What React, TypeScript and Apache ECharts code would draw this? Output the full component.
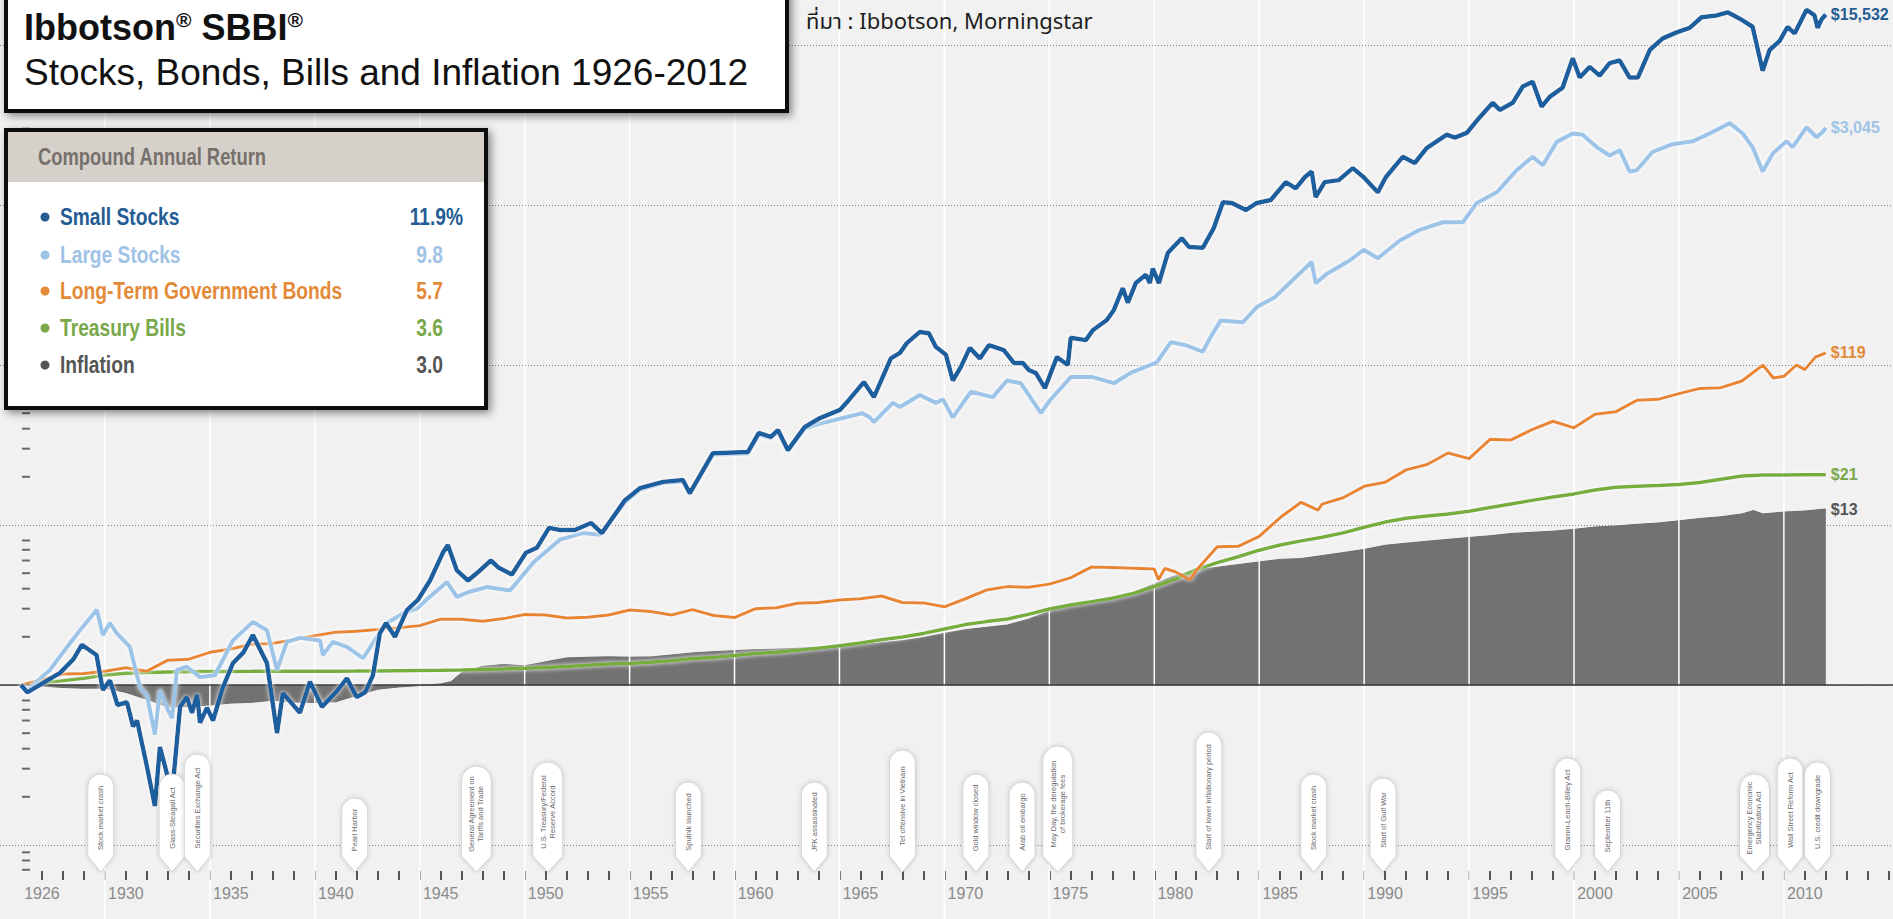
import React, { useEffect, useRef } from 'react';
import * as echarts from 'echarts';

const SANS = "'Liberation Sans', Arial, Helvetica, sans-serif";

// ---------- data (x = year-end, value = growth of $1) ----------
const smallStocks: [number, number][] = [
  [1925,1.0],[1925.3,0.9],[1926.05,1.03],[1926.86,1.19],[1927.5,1.45],[1927.9,1.78],[1928.6,1.54],[1928.9,0.93],
  [1929.24,1.07],[1929.6,0.75],[1930.05,0.78],[1930.34,0.55],[1930.53,0.6],[1931.0,0.31],[1931.38,0.175],[1931.62,0.41],
  [1932.2,0.21],[1932.58,0.73],[1932.9,0.84],[1933.15,0.67],[1933.39,0.87],[1933.53,0.58],[1933.86,0.72],[1934.15,0.6],
  [1934.6,0.95],[1935.1,1.37],[1935.6,1.6],[1936.05,2.05],[1936.72,1.37],[1937.2,0.5],[1937.48,0.89],[1938.29,0.67],
  [1938.77,1.05],[1939.34,0.73],[1940.0,0.9],[1940.53,1.1],[1941.0,0.84],[1941.4,0.9],[1941.77,1.15],[1942.1,2.1],
  [1942.39,2.44],[1942.82,2.0],[1943.39,2.94],[1943.91,3.4],[1944.49,4.5],[1945.1,6.7],[1945.34,7.5],[1945.77,5.2],
  [1946.3,4.5],[1946.87,5.2],[1947.39,6.0],[1947.77,5.4],[1948.39,4.9],[1949.06,6.7],[1949.58,7.2],[1950.16,9.6],
  [1950.68,9.3],[1951.39,9.3],[1952.16,10.3],[1952.68,8.9],[1953.78,14.3],[1954.49,17.0],[1955.59,18.6],[1956.54,19.1],
  [1956.87,15.8],[1957.97,28.1],[1959.64,28.6],[1960.16,37.6],[1960.73,35.5],[1961.07,39.2],[1961.54,29.4],[1962.35,41],
  [1963.07,46.6],[1964.02,52.4],[1964.45,60.5],[1965.16,78.2],[1965.64,63],[1966.45,110],[1966.88,119],[1967.21,137],
  [1967.83,161],[1968.26,158],[1968.59,130],[1969.07,116],[1969.4,80],[1969.78,97],[1970.21,128],[1970.69,110],
  [1971.12,133],[1971.83,124],[1972.31,103],[1972.74,103],[1973.02,93],[1973.36,89],[1973.79,71.6],[1974.36,112],
  [1974.88,100],[1975.02,148],[1975.74,143],[1976.07,165],[1976.74,191],[1977.07,220],[1977.5,302],[1977.74,245],
  [1978.12,325],[1978.6,366],[1978.79,325],[1978.93,401],[1979.22,325],[1979.65,503],[1980.31,620],[1980.65,547],
  [1981.31,540],[1981.84,720],[1982.27,1040],[1982.7,1030],[1983.36,930],[1983.89,1030],[1984.55,1075],[1985.27,1390],
  [1985.74,1270],[1986.17,1490],[1986.5,1620],[1986.69,1120],[1987.12,1390],[1987.79,1430],[1988.46,1700],[1988.98,1490],
  [1989.65,1200],[1990.03,1490],[1990.84,2000],[1991.41,1830],[1991.98,2270],[1992.94,2750],[1993.32,2640],[1993.89,2820],
  [1994.51,3540],[1995.13,4350],[1995.46,3930],[1996.08,4350],[1996.56,5500],[1997.03,5900],[1997.46,4120],[1997.84,4740],
  [1998.46,5420],[1998.94,8270],[1999.27,6260],[1999.75,7300],[2000.22,6440],[2000.7,7700],[2001.18,8000],[2001.65,6260],
  [2002.04,6260],[2002.61,9300],[2003.23,11000],[2003.89,12000],[2004.51,12800],[2005.08,14900],[2005.8,15300],[2006.32,16000],
  [2006.9,14600],[2007.51,13000],[2007.99,6900],[2008.32,9300],[2008.8,10600],[2009.18,13000],[2009.51,11800],[2010.08,16600],
  [2010.46,15300],[2010.61,12800],[2010.8,14500],[2011,15532]
];

const largeStocks: [number, number][] = [
  [1925,1.0],[1925.3,0.93],[1926.38,1.24],[1927.2,1.73],[1927.81,2.2],[1928.62,2.95],[1928.9,2.05],[1929.24,2.44],
  [1929.57,2.1],[1930.19,1.73],[1930.67,0.97],[1931.0,0.86],[1931.38,0.49],[1931.62,0.93],[1932.0,0.7],[1932.2,0.62],
  [1932.43,1.24],[1932.9,1.3],[1933.53,1.12],[1934.24,1.15],[1935.1,1.9],[1936.05,2.48],[1936.72,2.2],[1937.2,1.24],
  [1937.67,1.86],[1938.29,1.97],[1939.24,1.9],[1939.39,1.54],[1939.86,1.86],[1940.53,1.73],[1941.3,1.47],[1941.96,2.0],
  [1942.44,2.44],[1943.2,2.8],[1943.87,3.0],[1944.3,3.4],[1945.3,4.4],[1945.77,3.55],[1946.3,3.8],[1947.2,4.1],
  [1948.3,3.9],[1949.4,5.8],[1950.68,8.1],[1951.77,8.9],[1952.58,8.7],[1953.78,13.8],[1954.49,16.6],[1955.59,18.3],
  [1956.54,18.6],[1956.87,15.6],[1957.97,27.5],[1959.64,28.0],[1960.16,36.5],[1960.73,35.0],[1961.07,38.2],[1961.54,29.0],
  [1962.35,40.0],[1963.07,43.0],[1964.26,47.0],[1965.1,50.0],[1965.45,47.0],[1965.64,44.0],[1966.54,58.0],[1966.88,54.6],
  [1967.83,65.0],[1968.59,58.0],[1968.93,61.0],[1969.4,47.0],[1970.26,68.0],[1971.31,63.0],[1971.98,80.0],[1972.64,77.0],
  [1973.6,50.0],[1974.02,60.0],[1975.02,84.0],[1976.07,84.0],[1977.07,77.0],[1977.93,90.0],[1979.12,104.0],[1979.79,139.0],
  [1980.5,133.0],[1981.31,121.0],[1981.69,150.0],[1982.17,190.0],[1983.22,185.0],[1983.89,230.0],[1984.74,265.0],[1985.6,340.0],
  [1986.5,440.0],[1986.69,325.0],[1987.27,375.0],[1988.31,450.0],[1988.98,525.0],[1989.65,465.0],[1990.7,600.0],[1991.65,700.0],
  [1992.75,780.0],[1993.7,780.0],[1994.37,1030],[1995.32,1200],[1996.27,1650],[1997.03,2000],[1997.51,1770],[1998.18,2480],
  [1998.94,2800],[1999.41,2750],[2000.08,2300],[2000.7,2040],[2001.18,2200],[2001.65,1620],[2001.99,1650],[2002.75,2150],
  [2003.7,2400],[2004.65,2500],[2005.46,2800],[2006.42,3250],[2007.04,2800],[2007.51,2300],[2007.99,1620],[2008.47,2100],
  [2009.13,2500],[2009.42,2300],[2010.08,3060],[2010.56,2650],[2010.85,2860],[2011,3045]
];

const govBonds: [number, number][] = [
  [1925,1],[1926,1.08],[1927,1.17],[1928,1.18],[1929,1.22],[1930,1.28],[1931,1.22],[1932,1.43],[1933,1.45],[1934,1.6],
  [1935,1.68],[1936,1.8],[1937,1.82],[1938,1.92],[1939,2.03],[1940,2.14],[1941,2.17],[1942,2.22],[1943,2.28],[1944,2.35],
  [1945,2.58],[1946,2.58],[1947,2.5],[1948,2.6],[1949,2.76],[1950,2.74],[1951,2.62],[1952,2.65],[1953,2.74],[1954,2.94],
  [1955,2.88],[1956,2.74],[1957,2.96],[1958,2.72],[1959,2.64],[1960,3.0],[1961,3.04],[1962,3.24],[1963,3.28],[1964,3.4],
  [1965,3.46],[1966,3.6],[1967,3.28],[1968,3.26],[1969,3.08],[1970,3.46],[1971,3.92],[1972,4.12],[1973,4.08],[1974,4.27],
  [1975,4.67],[1976,5.46],[1977,5.42],[1978,5.36],[1979,5.3],[1979.2,4.55],[1979.5,5.35],[1980,5.1],[1980.7,4.55],[1981,5.2],
  [1982,7.3],[1983,7.36],[1984,8.5],[1985,11.13],[1986,13.86],[1986.8,12.4],[1987,13.5],[1988,14.8],[1989,17.45],[1990,18.5],
  [1991,22.1],[1992,23.9],[1993,28.2],[1994,26.0],[1995,34.3],[1996,34.0],[1997,39.4],[1998,44.5],[1999,40.5],[2000,49.2],
  [2001,51.1],[2002,60.2],[2003,61.0],[2004,66.2],[2005,71.4],[2006,72.2],[2007,79.4],[2008,99.9],[2008.5,83],[2009,85],
  [2009.6,100],[2010,93.6],[2010.5,112],[2011,119]
];

const tBills: [number, number][] = [
  [1925,1.0],[1926,1.033],[1927,1.065],[1928,1.103],[1929,1.155],[1930,1.183],[1931,1.196],[1932,1.207],[1933,1.211],
  [1934,1.213],[1935,1.215],[1936,1.217],[1937,1.221],[1938,1.221],[1939,1.221],[1940,1.221],[1941,1.222],[1942,1.225],
  [1943,1.229],[1944,1.233],[1945,1.237],[1946,1.242],[1947,1.248],[1948,1.258],[1949,1.272],[1950,1.287],[1951,1.306],
  [1952,1.328],[1953,1.352],[1954,1.364],[1955,1.385],[1956,1.419],[1957,1.464],[1958,1.486],[1959,1.53],[1960,1.571],
  [1961,1.604],[1962,1.648],[1963,1.7],[1964,1.76],[1965,1.829],[1966,1.916],[1967,1.997],[1968,2.101],[1969,2.239],
  [1970,2.385],[1971,2.49],[1972,2.585],[1973,2.764],[1974,2.986],[1975,3.159],[1976,3.319],[1977,3.489],[1978,3.74],
  [1979,4.128],[1980,4.592],[1981,5.267],[1982,5.822],[1983,6.335],[1984,6.959],[1985,7.496],[1986,7.958],[1987,8.393],
  [1988,8.926],[1989,9.673],[1990,10.429],[1991,11.012],[1992,11.398],[1993,11.728],[1994,12.186],[1995,12.868],
  [1996,13.538],[1997,14.25],[1998,14.942],[1999,15.646],[2000,16.56],[2001,17.2],[2002,17.48],[2003,17.66],[2004,17.89],
  [2005,18.43],[2006,19.32],[2007,20.22],[2008,20.52],[2009,20.55],[2010,20.58],[2011,20.59]
];

const inflation: [number, number][] = [
  [1925,1],[1926,0.985],[1927,0.965],[1928,0.955],[1929,0.957],[1930,0.899],[1931,0.814],[1932,0.73],[1933,0.734],
  [1934,0.749],[1935,0.771],[1936,0.78],[1937,0.804],[1938,0.782],[1939,0.778],[1940,0.786],[1941,0.862],[1942,0.942],
  [1943,0.972],[1944,0.993],[1945,1.015],[1945.5,1.05],[1946,1.199],[1947,1.307],[1948,1.343],[1949,1.318],[1950,1.395],
  [1951,1.477],[1952,1.49],[1953,1.499],[1954,1.492],[1955,1.497],[1956,1.54],[1957,1.587],[1958,1.615],[1959,1.639],
  [1960,1.663],[1961,1.674],[1962,1.695],[1963,1.723],[1964,1.743],[1965,1.777],[1966,1.836],[1967,1.892],[1968,1.981],
  [1969,2.102],[1970,2.218],[1971,2.292],[1972,2.371],[1973,2.579],[1974,2.894],[1975,3.097],[1976,3.246],[1977,3.466],
  [1978,3.778],[1979,4.281],[1980,4.812],[1981,5.242],[1982,5.445],[1983,5.652],[1984,5.875],[1985,6.097],[1986,6.166],
  [1987,6.438],[1988,6.722],[1989,7.035],[1990,7.464],[1991,7.693],[1992,7.916],[1993,8.133],[1994,8.351],[1995,8.563],
  [1996,8.847],[1997,8.998],[1998,9.143],[1999,9.389],[2000,9.707],[2001,9.857],[2002,10.091],[2003,10.281],[2004,10.616],
  [2005,10.977],[2006,11.257],[2007,11.717],[2007.55,12.3],[2008,11.727],[2009,12.041],[2010,12.222],[2011,12.587]
];

const seriesNames = ['Small Stocks', 'Large Stocks', 'Long-Term Government Bonds', 'Treasury Bills', 'Inflation'];
const annualReturns = ['11.9%', '9.8', '5.7', '3.6', '3.0'];
const endValueLabels = ['$15,532', '$3,045', '$119', '$21', '$13'];

const labelYears = [1926, 1930, 1935, 1940, 1945, 1950, 1955, 1960, 1965, 1970, 1975, 1980, 1985, 1990, 1995, 2000, 2005, 2010];
const columnYears = [1929, 1934, 1939, 1944, 1949, 1954, 1959, 1964, 1969, 1974, 1979, 1984, 1989, 1994, 1999, 2004, 2009];
const minorLogTicks = [0.07, 0.08, 0.09, 0.2, 0.3, 0.4, 0.5, 0.6, 0.7, 0.8, 2, 3, 4, 5, 6, 7, 8, 20, 30, 40, 50, 200, 300, 400, 500, 2000, 3000, 4000, 5000];

const eventYears = [1928.8, 1932.2, 1933.4, 1940.9, 1946.7, 1950.1, 1956.8, 1962.8, 1967.0, 1970.5, 1972.7, 1974.4, 1981.6, 1986.6, 1989.9, 1998.7, 2000.6, 2007.6, 2009.3, 2010.6];
const eventNames = [
  'Stock market crash', 'Glass-Steagall Act', 'Securities Exchange Act', 'Pearl Harbor',
  'General Agreement on\nTariffs and Trade', 'U.S. Treasury/Federal\nReserve Accord', 'Sputnik launched',
  'JFK assassinated', 'Tet offensive in Vietnam', 'Gold window closed', 'Arab oil embargo',
  'May Day, the deregulation\nof brokerage fees', 'Start of lower inflationary period', 'Stock market crash',
  'Start of Gulf War', 'Gramm-Leach-Bliley Act', 'September 11th', 'Emergency Economic\nStabilization Act',
  'Wall Street Reform Act', 'U.S. credit downgrade'
];

const tickYears: number[] = [];
for (let y = 1926; y <= 2014; y++) tickYears.push(y);

const lineColors = ['#1b5f9e', '#9cc4e8', '#e8852e', '#76ad3a', '#727272'];
const textColors = ['#245c93', '#9fc3e6', '#e38a38', '#79a84a', '#555555'];

function lineSeries(i: number, data: [number, number][], width: number, z: number) {
  return {
    type: 'line',
    name: seriesNames[i],
    data,
    symbol: 'none',
    silent: true,
    clip: false,
    z,
    lineStyle: { color: lineColors[i], width, shadowBlur: 4, shadowColor: 'rgba(255,255,255,0.95)' },
    endLabel: {
      show: true,
      formatter: endValueLabels[i],
      color: textColors[i],
      fontSize: 16,
      fontWeight: 'bold',
      fontFamily: SANS,
      distance: 5,
    },
  };
}

function buildOption(): any {
  const legendRowY = [217, 255, 291, 328, 365];
  const legendGraphics: any[] = [];
  seriesNames.forEach((n, i) => {
    legendGraphics.push({ type: 'circle', shape: { cx: 45, cy: legendRowY[i], r: 4.5 }, style: { fill: textColors[i] }, z: 102 });
    legendGraphics.push({
      type: 'text', x: 60, y: legendRowY[i], z: 102, scaleX: 0.8,
      style: { text: n, fill: textColors[i], fontSize: 24, fontWeight: 'bold', fontFamily: SANS, verticalAlign: 'middle' },
    });
    legendGraphics.push({
      type: 'text', x: i === 0 ? 463 : 443, y: legendRowY[i], z: 102, scaleX: 0.8,
      style: { text: annualReturns[i], fill: textColors[i], fontSize: 24, fontWeight: 'bold', fontFamily: SANS, align: 'right', verticalAlign: 'middle' },
    });
  });

  return {
    animation: false,
    backgroundColor: '#f1f1f1',
    grid: { left: 0, right: 0, top: 45, bottom: 74, containLabel: false },
    xAxis: {
      type: 'value', min: 1924, max: 2014.2, interval: 1, offset: 26,
      axisLine: { show: false },
      splitLine: { show: false },
      axisTick: { show: true, length: 9, inside: false, lineStyle: { color: '#222', width: 1.5 }, customValues: tickYears },
      axisLabel: {
        customValues: labelYears,
        formatter: (v: number) => (labelYears.indexOf(v) >= 0 ? String(v) : ''),
        color: '#8a8a8a', fontSize: 16, fontFamily: SANS, margin: 14,
      },
    },
    yAxis: {
      type: 'log', logBase: 10, min: 0.1, max: 10000, splitNumber: 5,
      axisLine: { show: false }, axisTick: { show: false }, axisLabel: { show: false },
      splitLine: { show: true, lineStyle: { color: '#7e7e7e', type: [1, 2], width: 1.2 } },
    },
    series: [
      {
        type: 'line', name: seriesNames[4], data: inflation, symbol: 'none', silent: true, z: 1,
        lineStyle: { color: '#6a6a6a', width: 1 },
        areaStyle: { color: '#727272', origin: 1, opacity: 1 },
        endLabel: { show: true, formatter: endValueLabels[4], color: textColors[4], fontSize: 16, fontWeight: 'bold', fontFamily: SANS, distance: 5 },
      },
      {
        type: 'custom', silent: true, z: 2,
        data: columnYears.map((y) => [y, 1]),
        encode: { x: 0, y: 1 },
        renderItem: (params: any, api: any) => {
          const x = api.coord([api.value(0), 1])[0];
          return { type: 'line', shape: { x1: x, y1: 0, x2: x, y2: api.getHeight() }, style: { stroke: '#ffffff', lineWidth: 1.5 } };
        },
      },
      {
        type: 'custom', silent: true, z: 2,
        data: minorLogTicks.map((v) => [1930, v]),
        encode: { x: 0, y: 1 },
        renderItem: (params: any, api: any) => {
          const y = api.coord([1930, api.value(1)])[1];
          return { type: 'line', shape: { x1: 22, y1: y, x2: 30, y2: y }, style: { stroke: '#6a6a6a', lineWidth: 2 } };
        },
      },
      {
        ...lineSeries(3, tBills, 3.5, 3),
        markLine: {
          silent: true, symbol: 'none', label: { show: false },
          lineStyle: { color: '#3a3a3a', width: 1.5, type: 'solid' },
          data: [{ yAxis: 1 }],
        },
      },
      lineSeries(2, govBonds, 3, 4),
      lineSeries(1, largeStocks, 4, 5),
      lineSeries(0, smallStocks, 4.5, 6),
      {
        type: 'custom', silent: true, z: 20,
        data: eventYears.map((y) => [y, 1]),
        encode: { x: 0, y: 1 },
        renderItem: (params: any, api: any) => {
          const name = eventNames[params.dataIndex];
          const lines = name.split('\n');
          const cx = api.coord([api.value(0), 1])[0];
          const tipY = api.coord([api.value(0), 0.1])[1] + 27;
          const maxLen = Math.max(...lines.map((l) => l.length));
          const h = Math.min(140, 4 * maxLen + 26);
          const w = lines.length > 1 ? 30 : 26;
          const r = w / 2;
          const top = tipY - h;
          const shoulder = tipY - 16;
          const d = `M${cx - r} ${top + r} A${r} ${r} 0 0 1 ${cx + r} ${top + r} L${cx + r} ${shoulder} L${cx} ${tipY} L${cx - r} ${shoulder} Z`;
          return {
            type: 'group',
            children: [
              { type: 'path', shape: { pathData: d }, style: { fill: '#ffffff', stroke: '#d4d4d4', lineWidth: 1, shadowBlur: 4, shadowColor: 'rgba(0,0,0,0.18)' } },
              {
                type: 'text', x: cx, y: (top + shoulder) / 2 + 3, rotation: Math.PI / 2,
                style: { text: name, fontSize: 7.5, lineHeight: 9, fontFamily: SANS, fill: '#6a6a6a', align: 'center', verticalAlign: 'middle' },
              },
            ],
          };
        },
      },
    ],
    graphic: [
      {
        type: 'rect', z: 100, shape: { x: 6, y: -10, width: 781, height: 121 },
        style: { fill: '#ffffff', stroke: '#111111', lineWidth: 4, shadowBlur: 8, shadowColor: 'rgba(0,0,0,0.45)', shadowOffsetX: 3, shadowOffsetY: 3 },
      },
      {
        type: 'text', x: 24, y: 27, z: 101,
        style: {
          text: '{b|Ibbotson}{s|®}{b| SBBI}{s|®}',
          verticalAlign: 'middle',
          rich: {
            b: { fontSize: 36, fontWeight: 'bold', fontFamily: SANS, fill: '#111111' },
            s: { fontSize: 21, fontWeight: 'bold', fontFamily: SANS, fill: '#111111', verticalAlign: 'top' },
          },
        },
      },
      {
        type: 'text', x: 24, y: 72, z: 101,
        style: { text: 'Stocks, Bonds, Bills and Inflation 1926-2012', fontSize: 37, fontFamily: SANS, fill: '#111111', verticalAlign: 'middle' },
      },
      {
        type: 'text', x: 806, y: 22, z: 101,
        style: { text: 'ที่มา : Ibbotson, Morningstar', fontSize: 22, fontFamily: "'Noto Sans Thai', 'Noto Sans', 'DejaVu Sans', sans-serif", fill: '#1e1e1e', verticalAlign: 'middle' },
      },
      {
        type: 'rect', z: 100, shape: { x: 6, y: 130, width: 480, height: 278 },
        style: { fill: '#ffffff', stroke: '#111111', lineWidth: 4, shadowBlur: 8, shadowColor: 'rgba(0,0,0,0.45)', shadowOffsetX: 3, shadowOffsetY: 3 },
      },
      { type: 'rect', z: 101, shape: { x: 8, y: 132, width: 476, height: 50 }, style: { fill: '#d6d0ca' } },
      {
        type: 'text', x: 38, y: 157, z: 102, scaleX: 0.8,
        style: { text: 'Compound Annual Return', fontSize: 23, fontWeight: 'bold', fontFamily: SANS, fill: '#77716c', verticalAlign: 'middle' },
      },
      ...legendGraphics,
    ],
  };
}

export default function App() {
  const ref = useRef<HTMLDivElement>(null);
  useEffect(() => {
    if (!ref.current) return;
    const chart = echarts.init(ref.current, null, { renderer: 'svg' });
    chart.setOption(buildOption());
    return () => chart.dispose();
  }, []);
  return (
    <div
      ref={ref}
      style={{ position: 'fixed', left: 0, top: 0, width: 1893, height: 919, background: '#f1f1f1' }}
    />
  );
}
